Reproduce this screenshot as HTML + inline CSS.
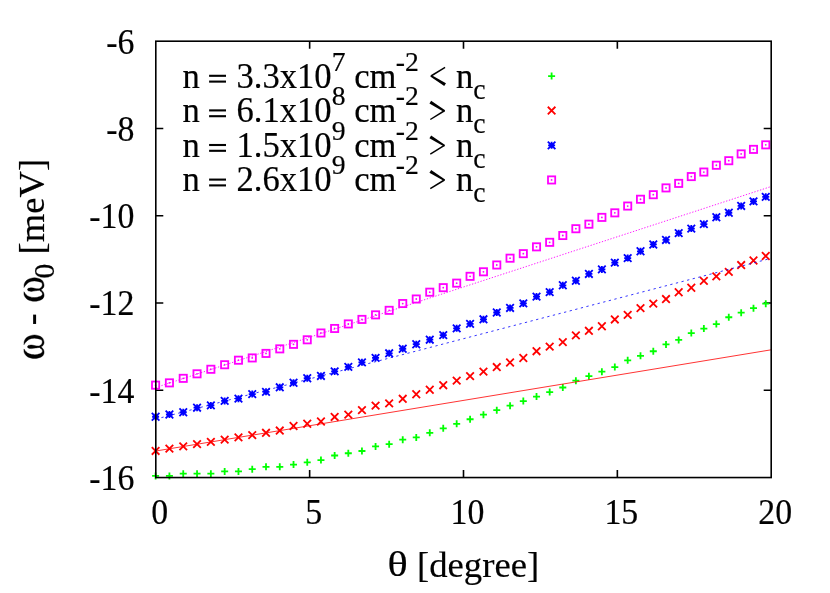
<!DOCTYPE html>
<html><head><meta charset="utf-8"><title>plot</title>
<style>
html,body{margin:0;padding:0;background:#fff;}
svg{display:block;}
text{font-family:"Liberation Serif",serif;fill:#000;stroke:#000;stroke-width:0.2px;}
</style></head><body>
<svg width="830" height="593" viewBox="0 0 830 593">
<rect width="830" height="593" fill="#fff"/>
<path d="M155.8 390.28h7.5M771.2 390.28h-7.5M155.8 303.01h7.5M771.2 303.01h-7.5M155.8 215.74h7.5M771.2 215.74h-7.5M155.8 128.47h7.5M771.2 128.47h-7.5M309.65 477.55v-7.5M309.65 41.2v7.5M463.50 477.55v-7.5M463.50 41.2v7.5M617.35 477.55v-7.5M617.35 41.2v7.5" stroke="#000" stroke-width="1.6" fill="none"/>
<path d="M152.10 475.93H159.10M155.60 472.43V479.43" stroke="#00ff00" stroke-width="1.8" fill="none"/>
<path d="M165.92 475.93H172.92M169.42 472.43V479.43" stroke="#00ff00" stroke-width="1.8" fill="none"/>
<path d="M179.74 473.66H186.74M183.24 470.16V477.16" stroke="#00ff00" stroke-width="1.8" fill="none"/>
<path d="M193.55 473.66H200.55M197.05 470.16V477.16" stroke="#00ff00" stroke-width="1.8" fill="none"/>
<path d="M207.36 473.66H214.36M210.86 470.16V477.16" stroke="#00ff00" stroke-width="1.8" fill="none"/>
<path d="M221.16 471.39H228.16M224.66 467.89V474.89" stroke="#00ff00" stroke-width="1.8" fill="none"/>
<path d="M234.96 471.39H241.96M238.46 467.89V474.89" stroke="#00ff00" stroke-width="1.8" fill="none"/>
<path d="M248.74 469.13H255.74M252.24 465.63V472.63" stroke="#00ff00" stroke-width="1.8" fill="none"/>
<path d="M262.51 466.86H269.51M266.01 463.36V470.36" stroke="#00ff00" stroke-width="1.8" fill="none"/>
<path d="M276.27 466.86H283.27M279.77 463.36V470.36" stroke="#00ff00" stroke-width="1.8" fill="none"/>
<path d="M290.02 464.59H297.02M293.52 461.09V468.09" stroke="#00ff00" stroke-width="1.8" fill="none"/>
<path d="M303.74 462.33H310.74M307.24 458.83V465.83" stroke="#00ff00" stroke-width="1.8" fill="none"/>
<path d="M317.45 460.06H324.45M320.95 456.56V463.56" stroke="#00ff00" stroke-width="1.8" fill="none"/>
<path d="M331.14 455.52H338.14M334.64 452.02V459.02" stroke="#00ff00" stroke-width="1.8" fill="none"/>
<path d="M344.81 453.26H351.81M348.31 449.76V456.76" stroke="#00ff00" stroke-width="1.8" fill="none"/>
<path d="M358.45 450.99H365.45M361.95 447.49V454.49" stroke="#00ff00" stroke-width="1.8" fill="none"/>
<path d="M372.07 446.46H379.07M375.57 442.96V449.96" stroke="#00ff00" stroke-width="1.8" fill="none"/>
<path d="M385.66 444.19H392.66M389.16 440.69V447.69" stroke="#00ff00" stroke-width="1.8" fill="none"/>
<path d="M399.23 439.66H406.23M402.73 436.16V443.16" stroke="#00ff00" stroke-width="1.8" fill="none"/>
<path d="M412.76 437.39H419.76M416.26 433.89V440.89" stroke="#00ff00" stroke-width="1.8" fill="none"/>
<path d="M426.27 432.85H433.27M429.77 429.35V436.35" stroke="#00ff00" stroke-width="1.8" fill="none"/>
<path d="M439.74 428.32H446.74M443.24 424.82V431.82" stroke="#00ff00" stroke-width="1.8" fill="none"/>
<path d="M453.18 423.79H460.18M456.68 420.29V427.29" stroke="#00ff00" stroke-width="1.8" fill="none"/>
<path d="M466.58 419.25H473.58M470.08 415.75V422.75" stroke="#00ff00" stroke-width="1.8" fill="none"/>
<path d="M479.95 414.72H486.95M483.45 411.22V418.22" stroke="#00ff00" stroke-width="1.8" fill="none"/>
<path d="M493.27 410.18H500.27M496.77 406.68V413.68" stroke="#00ff00" stroke-width="1.8" fill="none"/>
<path d="M506.56 405.65H513.56M510.06 402.15V409.15" stroke="#00ff00" stroke-width="1.8" fill="none"/>
<path d="M519.81 401.12H526.81M523.31 397.62V404.62" stroke="#00ff00" stroke-width="1.8" fill="none"/>
<path d="M533.02 396.58H540.02M536.52 393.08V400.08" stroke="#00ff00" stroke-width="1.8" fill="none"/>
<path d="M546.18 392.05H553.18M549.68 388.55V395.55" stroke="#00ff00" stroke-width="1.8" fill="none"/>
<path d="M559.30 387.51H566.30M562.80 384.01V391.01" stroke="#00ff00" stroke-width="1.8" fill="none"/>
<path d="M572.37 380.71H579.37M575.87 377.21V384.21" stroke="#00ff00" stroke-width="1.8" fill="none"/>
<path d="M585.40 376.18H592.40M588.90 372.68V379.68" stroke="#00ff00" stroke-width="1.8" fill="none"/>
<path d="M598.38 371.65H605.38M601.88 368.15V375.15" stroke="#00ff00" stroke-width="1.8" fill="none"/>
<path d="M611.31 367.11H618.31M614.81 363.61V370.61" stroke="#00ff00" stroke-width="1.8" fill="none"/>
<path d="M624.19 360.31H631.19M627.69 356.81V363.81" stroke="#00ff00" stroke-width="1.8" fill="none"/>
<path d="M637.01 355.78H644.01M640.51 352.28V359.28" stroke="#00ff00" stroke-width="1.8" fill="none"/>
<path d="M649.79 351.24H656.79M653.29 347.74V354.74" stroke="#00ff00" stroke-width="1.8" fill="none"/>
<path d="M662.51 344.44H669.51M666.01 340.94V347.94" stroke="#00ff00" stroke-width="1.8" fill="none"/>
<path d="M675.18 339.91H682.18M678.68 336.41V343.41" stroke="#00ff00" stroke-width="1.8" fill="none"/>
<path d="M687.79 333.11H694.79M691.29 329.61V336.61" stroke="#00ff00" stroke-width="1.8" fill="none"/>
<path d="M700.35 328.57H707.35M703.85 325.07V332.07" stroke="#00ff00" stroke-width="1.8" fill="none"/>
<path d="M712.84 324.04H719.84M716.34 320.54V327.54" stroke="#00ff00" stroke-width="1.8" fill="none"/>
<path d="M725.28 317.24H732.28M728.78 313.74V320.74" stroke="#00ff00" stroke-width="1.8" fill="none"/>
<path d="M737.67 312.70H744.67M741.17 309.20V316.20" stroke="#00ff00" stroke-width="1.8" fill="none"/>
<path d="M749.99 308.17H756.99M753.49 304.67V311.67" stroke="#00ff00" stroke-width="1.8" fill="none"/>
<path d="M762.25 303.64H769.25M765.75 300.14V307.14" stroke="#00ff00" stroke-width="1.8" fill="none"/>
<path d="M151.80 447.14L159.40 454.74M151.80 454.74L159.40 447.14" stroke="#ff0000" stroke-width="1.8" fill="none"/>
<path d="M165.62 444.87L173.22 452.47M165.62 452.47L173.22 444.87" stroke="#ff0000" stroke-width="1.8" fill="none"/>
<path d="M179.44 442.61L187.04 450.21M179.44 450.21L187.04 442.61" stroke="#ff0000" stroke-width="1.8" fill="none"/>
<path d="M193.25 440.34L200.85 447.94M193.25 447.94L200.85 440.34" stroke="#ff0000" stroke-width="1.8" fill="none"/>
<path d="M207.06 438.07L214.66 445.67M207.06 445.67L214.66 438.07" stroke="#ff0000" stroke-width="1.8" fill="none"/>
<path d="M220.86 435.81L228.46 443.41M220.86 443.41L228.46 435.81" stroke="#ff0000" stroke-width="1.8" fill="none"/>
<path d="M234.66 433.54L242.26 441.14M234.66 441.14L242.26 433.54" stroke="#ff0000" stroke-width="1.8" fill="none"/>
<path d="M248.44 431.27L256.04 438.87M248.44 438.87L256.04 431.27" stroke="#ff0000" stroke-width="1.8" fill="none"/>
<path d="M262.21 429.01L269.81 436.61M262.21 436.61L269.81 429.01" stroke="#ff0000" stroke-width="1.8" fill="none"/>
<path d="M275.97 426.74L283.57 434.34M275.97 434.34L283.57 426.74" stroke="#ff0000" stroke-width="1.8" fill="none"/>
<path d="M289.72 422.20L297.32 429.80M289.72 429.80L297.32 422.20" stroke="#ff0000" stroke-width="1.8" fill="none"/>
<path d="M303.44 419.94L311.04 427.54M303.44 427.54L311.04 419.94" stroke="#ff0000" stroke-width="1.8" fill="none"/>
<path d="M317.15 417.67L324.75 425.27M317.15 425.27L324.75 417.67" stroke="#ff0000" stroke-width="1.8" fill="none"/>
<path d="M330.84 413.14L338.44 420.74M330.84 420.74L338.44 413.14" stroke="#ff0000" stroke-width="1.8" fill="none"/>
<path d="M344.51 410.87L352.11 418.47M344.51 418.47L352.11 410.87" stroke="#ff0000" stroke-width="1.8" fill="none"/>
<path d="M358.15 406.34L365.75 413.94M358.15 413.94L365.75 406.34" stroke="#ff0000" stroke-width="1.8" fill="none"/>
<path d="M371.77 401.80L379.37 409.40M371.77 409.40L379.37 401.80" stroke="#ff0000" stroke-width="1.8" fill="none"/>
<path d="M385.36 399.53L392.96 407.13M385.36 407.13L392.96 399.53" stroke="#ff0000" stroke-width="1.8" fill="none"/>
<path d="M398.93 395.00L406.53 402.60M398.93 402.60L406.53 395.00" stroke="#ff0000" stroke-width="1.8" fill="none"/>
<path d="M412.46 390.47L420.06 398.07M412.46 398.07L420.06 390.47" stroke="#ff0000" stroke-width="1.8" fill="none"/>
<path d="M425.97 385.93L433.57 393.53M425.97 393.53L433.57 385.93" stroke="#ff0000" stroke-width="1.8" fill="none"/>
<path d="M439.44 381.40L447.04 389.00M439.44 389.00L447.04 381.40" stroke="#ff0000" stroke-width="1.8" fill="none"/>
<path d="M452.88 376.86L460.48 384.46M452.88 384.46L460.48 376.86" stroke="#ff0000" stroke-width="1.8" fill="none"/>
<path d="M466.28 372.33L473.88 379.93M466.28 379.93L473.88 372.33" stroke="#ff0000" stroke-width="1.8" fill="none"/>
<path d="M479.65 367.80L487.25 375.40M479.65 375.40L487.25 367.80" stroke="#ff0000" stroke-width="1.8" fill="none"/>
<path d="M492.97 363.26L500.57 370.86M492.97 370.86L500.57 363.26" stroke="#ff0000" stroke-width="1.8" fill="none"/>
<path d="M506.26 358.73L513.86 366.33M506.26 366.33L513.86 358.73" stroke="#ff0000" stroke-width="1.8" fill="none"/>
<path d="M519.51 354.19L527.11 361.79M519.51 361.79L527.11 354.19" stroke="#ff0000" stroke-width="1.8" fill="none"/>
<path d="M532.72 347.39L540.32 354.99M532.72 354.99L540.32 347.39" stroke="#ff0000" stroke-width="1.8" fill="none"/>
<path d="M545.88 342.86L553.48 350.46M545.88 350.46L553.48 342.86" stroke="#ff0000" stroke-width="1.8" fill="none"/>
<path d="M559.00 338.33L566.60 345.93M559.00 345.93L566.60 338.33" stroke="#ff0000" stroke-width="1.8" fill="none"/>
<path d="M572.07 331.52L579.67 339.12M572.07 339.12L579.67 331.52" stroke="#ff0000" stroke-width="1.8" fill="none"/>
<path d="M585.10 326.99L592.70 334.59M585.10 334.59L592.70 326.99" stroke="#ff0000" stroke-width="1.8" fill="none"/>
<path d="M598.08 322.46L605.68 330.06M598.08 330.06L605.68 322.46" stroke="#ff0000" stroke-width="1.8" fill="none"/>
<path d="M611.01 315.66L618.61 323.26M611.01 323.26L618.61 315.66" stroke="#ff0000" stroke-width="1.8" fill="none"/>
<path d="M623.89 311.12L631.49 318.72M623.89 318.72L631.49 311.12" stroke="#ff0000" stroke-width="1.8" fill="none"/>
<path d="M636.71 304.32L644.31 311.92M636.71 311.92L644.31 304.32" stroke="#ff0000" stroke-width="1.8" fill="none"/>
<path d="M649.49 299.79L657.09 307.39M649.49 307.39L657.09 299.79" stroke="#ff0000" stroke-width="1.8" fill="none"/>
<path d="M662.21 295.25L669.81 302.85M662.21 302.85L669.81 295.25" stroke="#ff0000" stroke-width="1.8" fill="none"/>
<path d="M674.88 288.45L682.48 296.05M674.88 296.05L682.48 288.45" stroke="#ff0000" stroke-width="1.8" fill="none"/>
<path d="M687.49 283.92L695.09 291.52M687.49 291.52L695.09 283.92" stroke="#ff0000" stroke-width="1.8" fill="none"/>
<path d="M700.05 277.12L707.65 284.72M700.05 284.72L707.65 277.12" stroke="#ff0000" stroke-width="1.8" fill="none"/>
<path d="M712.54 272.58L720.14 280.18M712.54 280.18L720.14 272.58" stroke="#ff0000" stroke-width="1.8" fill="none"/>
<path d="M724.98 268.05L732.58 275.65M724.98 275.65L732.58 268.05" stroke="#ff0000" stroke-width="1.8" fill="none"/>
<path d="M737.37 261.25L744.97 268.85M737.37 268.85L744.97 261.25" stroke="#ff0000" stroke-width="1.8" fill="none"/>
<path d="M749.69 256.71L757.29 264.31M749.69 264.31L757.29 256.71" stroke="#ff0000" stroke-width="1.8" fill="none"/>
<path d="M761.95 252.18L769.55 259.78M761.95 259.78L769.55 252.18" stroke="#ff0000" stroke-width="1.8" fill="none"/>
<path d="M152.10 416.77H159.10M155.60 413.27V420.27M151.80 412.97L159.40 420.57M151.80 420.57L159.40 412.97" stroke="#0000ff" stroke-width="1.8" fill="none"/>
<path d="M165.92 414.50H172.92M169.42 411.00V418.00M165.62 410.70L173.22 418.30M165.62 418.30L173.22 410.70" stroke="#0000ff" stroke-width="1.8" fill="none"/>
<path d="M179.74 412.23H186.74M183.24 408.73V415.73M179.44 408.43L187.04 416.03M179.44 416.03L187.04 408.43" stroke="#0000ff" stroke-width="1.8" fill="none"/>
<path d="M193.55 407.70H200.55M197.05 404.20V411.20M193.25 403.90L200.85 411.50M193.25 411.50L200.85 403.90" stroke="#0000ff" stroke-width="1.8" fill="none"/>
<path d="M207.36 405.43H214.36M210.86 401.93V408.93M207.06 401.63L214.66 409.23M207.06 409.23L214.66 401.63" stroke="#0000ff" stroke-width="1.8" fill="none"/>
<path d="M221.16 400.90H228.16M224.66 397.40V404.40M220.86 397.10L228.46 404.70M220.86 404.70L228.46 397.10" stroke="#0000ff" stroke-width="1.8" fill="none"/>
<path d="M234.96 398.63H241.96M238.46 395.13V402.13M234.66 394.83L242.26 402.43M234.66 402.43L242.26 394.83" stroke="#0000ff" stroke-width="1.8" fill="none"/>
<path d="M248.74 394.10H255.74M252.24 390.60V397.60M248.44 390.30L256.04 397.90M248.44 397.90L256.04 390.30" stroke="#0000ff" stroke-width="1.8" fill="none"/>
<path d="M262.51 391.83H269.51M266.01 388.33V395.33M262.21 388.03L269.81 395.63M262.21 395.63L269.81 388.03" stroke="#0000ff" stroke-width="1.8" fill="none"/>
<path d="M276.27 387.30H283.27M279.77 383.80V390.80M275.97 383.50L283.57 391.10M275.97 391.10L283.57 383.50" stroke="#0000ff" stroke-width="1.8" fill="none"/>
<path d="M290.02 382.76H297.02M293.52 379.26V386.26M289.72 378.96L297.32 386.56M289.72 386.56L297.32 378.96" stroke="#0000ff" stroke-width="1.8" fill="none"/>
<path d="M303.74 378.23H310.74M307.24 374.73V381.73M303.44 374.43L311.04 382.03M303.44 382.03L311.04 374.43" stroke="#0000ff" stroke-width="1.8" fill="none"/>
<path d="M317.45 375.96H324.45M320.95 372.46V379.46M317.15 372.16L324.75 379.76M317.15 379.76L324.75 372.16" stroke="#0000ff" stroke-width="1.8" fill="none"/>
<path d="M331.14 371.43H338.14M334.64 367.93V374.93M330.84 367.63L338.44 375.23M330.84 375.23L338.44 367.63" stroke="#0000ff" stroke-width="1.8" fill="none"/>
<path d="M344.81 366.89H351.81M348.31 363.39V370.39M344.51 363.09L352.11 370.69M344.51 370.69L352.11 363.09" stroke="#0000ff" stroke-width="1.8" fill="none"/>
<path d="M358.45 362.36H365.45M361.95 358.86V365.86M358.15 358.56L365.75 366.16M358.15 366.16L365.75 358.56" stroke="#0000ff" stroke-width="1.8" fill="none"/>
<path d="M372.07 357.82H379.07M375.57 354.32V361.32M371.77 354.02L379.37 361.62M371.77 361.62L379.37 354.02" stroke="#0000ff" stroke-width="1.8" fill="none"/>
<path d="M385.66 353.29H392.66M389.16 349.79V356.79M385.36 349.49L392.96 357.09M385.36 357.09L392.96 349.49" stroke="#0000ff" stroke-width="1.8" fill="none"/>
<path d="M399.23 348.76H406.23M402.73 345.26V352.26M398.93 344.96L406.53 352.56M398.93 352.56L406.53 344.96" stroke="#0000ff" stroke-width="1.8" fill="none"/>
<path d="M412.76 344.22H419.76M416.26 340.72V347.72M412.46 340.42L420.06 348.02M412.46 348.02L420.06 340.42" stroke="#0000ff" stroke-width="1.8" fill="none"/>
<path d="M426.27 339.69H433.27M429.77 336.19V343.19M425.97 335.89L433.57 343.49M425.97 343.49L433.57 335.89" stroke="#0000ff" stroke-width="1.8" fill="none"/>
<path d="M439.74 335.15H446.74M443.24 331.65V338.65M439.44 331.35L447.04 338.95M439.44 338.95L447.04 331.35" stroke="#0000ff" stroke-width="1.8" fill="none"/>
<path d="M453.18 328.35H460.18M456.68 324.85V331.85M452.88 324.55L460.48 332.15M452.88 332.15L460.48 324.55" stroke="#0000ff" stroke-width="1.8" fill="none"/>
<path d="M466.58 323.82H473.58M470.08 320.32V327.32M466.28 320.02L473.88 327.62M466.28 327.62L473.88 320.02" stroke="#0000ff" stroke-width="1.8" fill="none"/>
<path d="M479.95 319.29H486.95M483.45 315.79V322.79M479.65 315.49L487.25 323.09M479.65 323.09L487.25 315.49" stroke="#0000ff" stroke-width="1.8" fill="none"/>
<path d="M493.27 312.48H500.27M496.77 308.98V315.98M492.97 308.68L500.57 316.28M492.97 316.28L500.57 308.68" stroke="#0000ff" stroke-width="1.8" fill="none"/>
<path d="M506.56 307.95H513.56M510.06 304.45V311.45M506.26 304.15L513.86 311.75M506.26 311.75L513.86 304.15" stroke="#0000ff" stroke-width="1.8" fill="none"/>
<path d="M519.81 303.42H526.81M523.31 299.92V306.92M519.51 299.62L527.11 307.22M519.51 307.22L527.11 299.62" stroke="#0000ff" stroke-width="1.8" fill="none"/>
<path d="M533.02 296.62H540.02M536.52 293.12V300.12M532.72 292.82L540.32 300.42M532.72 300.42L540.32 292.82" stroke="#0000ff" stroke-width="1.8" fill="none"/>
<path d="M546.18 292.08H553.18M549.68 288.58V295.58M545.88 288.28L553.48 295.88M545.88 295.88L553.48 288.28" stroke="#0000ff" stroke-width="1.8" fill="none"/>
<path d="M559.30 285.28H566.30M562.80 281.78V288.78M559.00 281.48L566.60 289.08M559.00 289.08L566.60 281.48" stroke="#0000ff" stroke-width="1.8" fill="none"/>
<path d="M572.37 280.75H579.37M575.87 277.25V284.25M572.07 276.95L579.67 284.55M572.07 284.55L579.67 276.95" stroke="#0000ff" stroke-width="1.8" fill="none"/>
<path d="M585.40 273.95H592.40M588.90 270.45V277.45M585.10 270.15L592.70 277.75M585.10 277.75L592.70 270.15" stroke="#0000ff" stroke-width="1.8" fill="none"/>
<path d="M598.38 269.41H605.38M601.88 265.91V272.91M598.08 265.61L605.68 273.21M598.08 273.21L605.68 265.61" stroke="#0000ff" stroke-width="1.8" fill="none"/>
<path d="M611.31 262.61H618.31M614.81 259.11V266.11M611.01 258.81L618.61 266.41M611.01 266.41L618.61 258.81" stroke="#0000ff" stroke-width="1.8" fill="none"/>
<path d="M624.19 258.08H631.19M627.69 254.58V261.58M623.89 254.28L631.49 261.88M623.89 261.88L631.49 254.28" stroke="#0000ff" stroke-width="1.8" fill="none"/>
<path d="M637.01 251.28H644.01M640.51 247.78V254.78M636.71 247.48L644.31 255.08M636.71 255.08L644.31 247.48" stroke="#0000ff" stroke-width="1.8" fill="none"/>
<path d="M649.79 244.47H656.79M653.29 240.97V247.97M649.49 240.67L657.09 248.27M649.49 248.27L657.09 240.67" stroke="#0000ff" stroke-width="1.8" fill="none"/>
<path d="M662.51 239.94H669.51M666.01 236.44V243.44M662.21 236.14L669.81 243.74M662.21 243.74L669.81 236.14" stroke="#0000ff" stroke-width="1.8" fill="none"/>
<path d="M675.18 233.14H682.18M678.68 229.64V236.64M674.88 229.34L682.48 236.94M674.88 236.94L682.48 229.34" stroke="#0000ff" stroke-width="1.8" fill="none"/>
<path d="M687.79 228.61H694.79M691.29 225.11V232.11M687.49 224.81L695.09 232.41M687.49 232.41L695.09 224.81" stroke="#0000ff" stroke-width="1.8" fill="none"/>
<path d="M700.35 224.07H707.35M703.85 220.57V227.57M700.05 220.27L707.65 227.87M700.05 227.87L707.65 220.27" stroke="#0000ff" stroke-width="1.8" fill="none"/>
<path d="M712.84 217.27H719.84M716.34 213.77V220.77M712.54 213.47L720.14 221.07M712.54 221.07L720.14 213.47" stroke="#0000ff" stroke-width="1.8" fill="none"/>
<path d="M725.28 212.74H732.28M728.78 209.24V216.24M724.98 208.94L732.58 216.54M724.98 216.54L732.58 208.94" stroke="#0000ff" stroke-width="1.8" fill="none"/>
<path d="M737.67 205.94H744.67M741.17 202.44V209.44M737.37 202.14L744.97 209.74M737.37 209.74L744.97 202.14" stroke="#0000ff" stroke-width="1.8" fill="none"/>
<path d="M749.99 201.40H756.99M753.49 197.90V204.90M749.69 197.60L757.29 205.20M749.69 205.20L757.29 197.60" stroke="#0000ff" stroke-width="1.8" fill="none"/>
<path d="M762.25 196.87H769.25M765.75 193.37V200.37M761.95 193.07L769.55 200.67M761.95 200.67L769.55 193.07" stroke="#0000ff" stroke-width="1.8" fill="none"/>
<rect x="152.00" y="381.54" width="7.20" height="7.20" stroke="#ff00ff" stroke-width="1.8" fill="none"/><circle cx="155.60" cy="385.14" r="0.9" fill="#ff00ff"/>
<rect x="165.82" y="379.27" width="7.20" height="7.20" stroke="#ff00ff" stroke-width="1.8" fill="none"/><circle cx="169.42" cy="382.87" r="0.9" fill="#ff00ff"/>
<rect x="179.64" y="374.74" width="7.20" height="7.20" stroke="#ff00ff" stroke-width="1.8" fill="none"/><circle cx="183.24" cy="378.34" r="0.9" fill="#ff00ff"/>
<rect x="193.45" y="370.21" width="7.20" height="7.20" stroke="#ff00ff" stroke-width="1.8" fill="none"/><circle cx="197.05" cy="373.81" r="0.9" fill="#ff00ff"/>
<rect x="207.26" y="365.67" width="7.20" height="7.20" stroke="#ff00ff" stroke-width="1.8" fill="none"/><circle cx="210.86" cy="369.27" r="0.9" fill="#ff00ff"/>
<rect x="221.06" y="361.14" width="7.20" height="7.20" stroke="#ff00ff" stroke-width="1.8" fill="none"/><circle cx="224.66" cy="364.74" r="0.9" fill="#ff00ff"/>
<rect x="234.86" y="356.60" width="7.20" height="7.20" stroke="#ff00ff" stroke-width="1.8" fill="none"/><circle cx="238.46" cy="360.20" r="0.9" fill="#ff00ff"/>
<rect x="248.64" y="354.34" width="7.20" height="7.20" stroke="#ff00ff" stroke-width="1.8" fill="none"/><circle cx="252.24" cy="357.94" r="0.9" fill="#ff00ff"/>
<rect x="262.41" y="349.80" width="7.20" height="7.20" stroke="#ff00ff" stroke-width="1.8" fill="none"/><circle cx="266.01" cy="353.40" r="0.9" fill="#ff00ff"/>
<rect x="276.17" y="345.27" width="7.20" height="7.20" stroke="#ff00ff" stroke-width="1.8" fill="none"/><circle cx="279.77" cy="348.87" r="0.9" fill="#ff00ff"/>
<rect x="289.92" y="340.74" width="7.20" height="7.20" stroke="#ff00ff" stroke-width="1.8" fill="none"/><circle cx="293.52" cy="344.34" r="0.9" fill="#ff00ff"/>
<rect x="303.64" y="336.20" width="7.20" height="7.20" stroke="#ff00ff" stroke-width="1.8" fill="none"/><circle cx="307.24" cy="339.80" r="0.9" fill="#ff00ff"/>
<rect x="317.35" y="329.40" width="7.20" height="7.20" stroke="#ff00ff" stroke-width="1.8" fill="none"/><circle cx="320.95" cy="333.00" r="0.9" fill="#ff00ff"/>
<rect x="331.04" y="324.87" width="7.20" height="7.20" stroke="#ff00ff" stroke-width="1.8" fill="none"/><circle cx="334.64" cy="328.47" r="0.9" fill="#ff00ff"/>
<rect x="344.71" y="320.33" width="7.20" height="7.20" stroke="#ff00ff" stroke-width="1.8" fill="none"/><circle cx="348.31" cy="323.93" r="0.9" fill="#ff00ff"/>
<rect x="358.35" y="315.80" width="7.20" height="7.20" stroke="#ff00ff" stroke-width="1.8" fill="none"/><circle cx="361.95" cy="319.40" r="0.9" fill="#ff00ff"/>
<rect x="371.97" y="311.26" width="7.20" height="7.20" stroke="#ff00ff" stroke-width="1.8" fill="none"/><circle cx="375.57" cy="314.86" r="0.9" fill="#ff00ff"/>
<rect x="385.56" y="306.73" width="7.20" height="7.20" stroke="#ff00ff" stroke-width="1.8" fill="none"/><circle cx="389.16" cy="310.33" r="0.9" fill="#ff00ff"/>
<rect x="399.13" y="299.93" width="7.20" height="7.20" stroke="#ff00ff" stroke-width="1.8" fill="none"/><circle cx="402.73" cy="303.53" r="0.9" fill="#ff00ff"/>
<rect x="412.66" y="295.40" width="7.20" height="7.20" stroke="#ff00ff" stroke-width="1.8" fill="none"/><circle cx="416.26" cy="299.00" r="0.9" fill="#ff00ff"/>
<rect x="426.17" y="288.59" width="7.20" height="7.20" stroke="#ff00ff" stroke-width="1.8" fill="none"/><circle cx="429.77" cy="292.19" r="0.9" fill="#ff00ff"/>
<rect x="439.64" y="284.06" width="7.20" height="7.20" stroke="#ff00ff" stroke-width="1.8" fill="none"/><circle cx="443.24" cy="287.66" r="0.9" fill="#ff00ff"/>
<rect x="453.08" y="279.53" width="7.20" height="7.20" stroke="#ff00ff" stroke-width="1.8" fill="none"/><circle cx="456.68" cy="283.13" r="0.9" fill="#ff00ff"/>
<rect x="466.48" y="272.73" width="7.20" height="7.20" stroke="#ff00ff" stroke-width="1.8" fill="none"/><circle cx="470.08" cy="276.33" r="0.9" fill="#ff00ff"/>
<rect x="479.85" y="268.19" width="7.20" height="7.20" stroke="#ff00ff" stroke-width="1.8" fill="none"/><circle cx="483.45" cy="271.79" r="0.9" fill="#ff00ff"/>
<rect x="493.17" y="261.39" width="7.20" height="7.20" stroke="#ff00ff" stroke-width="1.8" fill="none"/><circle cx="496.77" cy="264.99" r="0.9" fill="#ff00ff"/>
<rect x="506.46" y="254.59" width="7.20" height="7.20" stroke="#ff00ff" stroke-width="1.8" fill="none"/><circle cx="510.06" cy="258.19" r="0.9" fill="#ff00ff"/>
<rect x="519.71" y="250.06" width="7.20" height="7.20" stroke="#ff00ff" stroke-width="1.8" fill="none"/><circle cx="523.31" cy="253.66" r="0.9" fill="#ff00ff"/>
<rect x="532.92" y="243.25" width="7.20" height="7.20" stroke="#ff00ff" stroke-width="1.8" fill="none"/><circle cx="536.52" cy="246.85" r="0.9" fill="#ff00ff"/>
<rect x="546.08" y="238.72" width="7.20" height="7.20" stroke="#ff00ff" stroke-width="1.8" fill="none"/><circle cx="549.68" cy="242.32" r="0.9" fill="#ff00ff"/>
<rect x="559.20" y="231.92" width="7.20" height="7.20" stroke="#ff00ff" stroke-width="1.8" fill="none"/><circle cx="562.80" cy="235.52" r="0.9" fill="#ff00ff"/>
<rect x="572.27" y="225.12" width="7.20" height="7.20" stroke="#ff00ff" stroke-width="1.8" fill="none"/><circle cx="575.87" cy="228.72" r="0.9" fill="#ff00ff"/>
<rect x="585.30" y="220.58" width="7.20" height="7.20" stroke="#ff00ff" stroke-width="1.8" fill="none"/><circle cx="588.90" cy="224.18" r="0.9" fill="#ff00ff"/>
<rect x="598.28" y="213.78" width="7.20" height="7.20" stroke="#ff00ff" stroke-width="1.8" fill="none"/><circle cx="601.88" cy="217.38" r="0.9" fill="#ff00ff"/>
<rect x="611.21" y="209.25" width="7.20" height="7.20" stroke="#ff00ff" stroke-width="1.8" fill="none"/><circle cx="614.81" cy="212.85" r="0.9" fill="#ff00ff"/>
<rect x="624.09" y="202.45" width="7.20" height="7.20" stroke="#ff00ff" stroke-width="1.8" fill="none"/><circle cx="627.69" cy="206.05" r="0.9" fill="#ff00ff"/>
<rect x="636.91" y="195.65" width="7.20" height="7.20" stroke="#ff00ff" stroke-width="1.8" fill="none"/><circle cx="640.51" cy="199.25" r="0.9" fill="#ff00ff"/>
<rect x="649.69" y="191.11" width="7.20" height="7.20" stroke="#ff00ff" stroke-width="1.8" fill="none"/><circle cx="653.29" cy="194.71" r="0.9" fill="#ff00ff"/>
<rect x="662.41" y="184.31" width="7.20" height="7.20" stroke="#ff00ff" stroke-width="1.8" fill="none"/><circle cx="666.01" cy="187.91" r="0.9" fill="#ff00ff"/>
<rect x="675.08" y="179.78" width="7.20" height="7.20" stroke="#ff00ff" stroke-width="1.8" fill="none"/><circle cx="678.68" cy="183.38" r="0.9" fill="#ff00ff"/>
<rect x="687.69" y="172.98" width="7.20" height="7.20" stroke="#ff00ff" stroke-width="1.8" fill="none"/><circle cx="691.29" cy="176.58" r="0.9" fill="#ff00ff"/>
<rect x="700.25" y="168.44" width="7.20" height="7.20" stroke="#ff00ff" stroke-width="1.8" fill="none"/><circle cx="703.85" cy="172.04" r="0.9" fill="#ff00ff"/>
<rect x="712.74" y="161.64" width="7.20" height="7.20" stroke="#ff00ff" stroke-width="1.8" fill="none"/><circle cx="716.34" cy="165.24" r="0.9" fill="#ff00ff"/>
<rect x="725.18" y="157.11" width="7.20" height="7.20" stroke="#ff00ff" stroke-width="1.8" fill="none"/><circle cx="728.78" cy="160.71" r="0.9" fill="#ff00ff"/>
<rect x="737.57" y="150.31" width="7.20" height="7.20" stroke="#ff00ff" stroke-width="1.8" fill="none"/><circle cx="741.17" cy="153.91" r="0.9" fill="#ff00ff"/>
<rect x="749.89" y="145.77" width="7.20" height="7.20" stroke="#ff00ff" stroke-width="1.8" fill="none"/><circle cx="753.49" cy="149.37" r="0.9" fill="#ff00ff"/>
<rect x="762.15" y="141.24" width="7.20" height="7.20" stroke="#ff00ff" stroke-width="1.8" fill="none"/><circle cx="765.75" cy="144.84" r="0.9" fill="#ff00ff"/>
<path d="M155.80 451.00L771.20 349.80" stroke="#ff0000" stroke-width="0.8" fill="none"/>
<path d="M155.80 419.10L771.20 258.30" stroke="#0000ff" stroke-width="0.8" stroke-dasharray="2.3 3.48" fill="none"/>
<path d="M155.80 387.50L771.20 186.50" stroke="#ff00ff" stroke-width="0.9" stroke-dasharray="1.3 1.67" fill="none"/>
<path d="M548.10 76.10H555.10M551.60 72.60V79.60" stroke="#00ff00" stroke-width="1.8" fill="none"/>
<path d="M547.80 106.75L555.40 114.35M547.80 114.35L555.40 106.75" stroke="#ff0000" stroke-width="1.8" fill="none"/>
<path d="M548.10 145.35H555.10M551.60 141.85V148.85M547.80 141.55L555.40 149.15M547.80 149.15L555.40 141.55" stroke="#0000ff" stroke-width="1.8" fill="none"/>
<rect x="548.00" y="176.35" width="7.20" height="7.20" stroke="#ff00ff" stroke-width="1.8" fill="none"/><circle cx="551.60" cy="179.95" r="0.9" fill="#ff00ff"/>
<rect x="155.8" y="41.2" width="615.40" height="436.35" fill="none" stroke="#000" stroke-width="1.6"/>
<g opacity="0.999">
<text transform="translate(134.40 489.85) scale(0.975 1.06)" font-size="34.70" text-anchor="end">-16</text>
<text transform="translate(134.40 402.58) scale(0.975 1.06)" font-size="34.70" text-anchor="end">-14</text>
<text transform="translate(134.40 315.31) scale(0.975 1.06)" font-size="34.70" text-anchor="end">-12</text>
<text transform="translate(134.40 228.04) scale(0.975 1.06)" font-size="34.70" text-anchor="end">-10</text>
<text transform="translate(134.40 140.77) scale(0.975 1.06)" font-size="34.70" text-anchor="end">-8</text>
<text transform="translate(134.40 53.50) scale(0.975 1.06)" font-size="34.70" text-anchor="end">-6</text>
<text transform="translate(159.80 523.90) scale(0.975 1.06)" font-size="34.70" text-anchor="middle">0</text>
<text transform="translate(313.65 523.90) scale(0.975 1.06)" font-size="34.70" text-anchor="middle">5</text>
<text transform="translate(467.50 523.90) scale(0.975 1.06)" font-size="34.70" text-anchor="middle">10</text>
<text transform="translate(621.35 523.90) scale(0.975 1.06)" font-size="34.70" text-anchor="middle">15</text>
<text transform="translate(775.20 523.90) scale(0.975 1.06)" font-size="34.70" text-anchor="middle">20</text>
<text transform="translate(387.40 576.05) scale(1.143 0.955)" font-size="37.00" text-anchor="start" stroke="#000" stroke-width="0.3">θ</text>
<text transform="translate(417.06 577.10) scale(0.991 0.94)" font-size="37.00" text-anchor="start">[degree]</text>
<path d="M23.97 344.70C24.05 344.02 23.86 341.94 24.44 340.65C25.03 339.36 25.79 337.88 27.48 336.94C29.17 335.99 32.20 334.95 34.56 334.98C36.92 335.02 40.07 335.99 41.64 337.14C43.22 338.29 43.75 340.51 44.01 341.86C44.26 343.21 43.67 344.40 43.20 345.24C42.72 346.07 41.51 346.59 41.17 346.85C41.55 347.32 42.99 348.54 43.47 349.62C43.94 350.70 44.31 352.15 44.01 353.33C43.70 354.51 43.22 355.84 41.64 356.70C40.07 357.57 36.92 358.52 34.56 358.52C32.20 358.52 29.19 357.66 27.48 356.70C25.77 355.75 24.89 354.08 24.31 352.79C23.72 351.50 24.03 349.59 23.97 348.95C24.33 349.43 25.24 351.03 26.13 351.85C27.02 352.67 27.89 353.38 29.30 353.87C30.71 354.36 32.81 354.83 34.56 354.81C36.32 354.80 38.54 354.27 39.82 353.80C41.10 353.33 41.91 352.68 42.25 351.98C42.59 351.28 42.32 350.39 41.85 349.62C41.37 348.86 39.82 347.77 39.42 347.39C38.72 347.51 36.61 347.87 35.24 348.07C33.86 348.27 32.36 348.63 31.19 348.61C30.02 348.59 28.83 348.25 28.22 347.93C27.61 347.62 27.52 347.12 27.55 346.72C27.57 346.32 27.69 345.79 28.36 345.51C29.02 345.22 30.38 345.01 31.53 345.03C32.67 345.06 33.97 345.47 35.24 345.64C36.51 345.81 38.50 345.98 39.15 346.05C39.55 345.75 41.06 344.99 41.58 344.29C42.09 343.59 42.36 342.66 42.25 341.86C42.14 341.07 42.18 340.12 40.90 339.50C39.62 338.88 36.46 338.21 34.56 338.15C32.66 338.10 30.91 338.55 29.50 339.17C28.10 339.78 27.05 340.94 26.13 341.86C25.21 342.79 24.33 344.22 23.97 344.70Z" fill="#000" stroke="#000" stroke-width="0.4" stroke-linejoin="round"/>
<path d="M23.97 287.50C24.05 286.82 23.86 284.74 24.44 283.45C25.03 282.16 25.79 280.68 27.48 279.74C29.17 278.79 32.20 277.75 34.56 277.78C36.92 277.82 40.07 278.79 41.64 279.94C43.22 281.09 43.75 283.31 44.01 284.66C44.26 286.01 43.67 287.20 43.20 288.04C42.72 288.87 41.51 289.39 41.17 289.65C41.55 290.12 42.99 291.34 43.47 292.42C43.94 293.50 44.31 294.95 44.01 296.13C43.70 297.31 43.22 298.64 41.64 299.50C40.07 300.37 36.92 301.32 34.56 301.32C32.20 301.32 29.19 300.46 27.48 299.50C25.77 298.55 24.89 296.88 24.31 295.59C23.72 294.30 24.03 292.39 23.97 291.75C24.33 292.23 25.24 293.83 26.13 294.65C27.02 295.47 27.89 296.18 29.30 296.67C30.71 297.16 32.81 297.63 34.56 297.61C36.32 297.60 38.54 297.07 39.82 296.60C41.10 296.13 41.91 295.48 42.25 294.78C42.59 294.08 42.32 293.19 41.85 292.42C41.37 291.66 39.82 290.57 39.42 290.19C38.72 290.31 36.61 290.67 35.24 290.87C33.86 291.07 32.36 291.43 31.19 291.41C30.02 291.39 28.83 291.05 28.22 290.73C27.61 290.42 27.52 289.92 27.55 289.52C27.57 289.12 27.69 288.59 28.36 288.31C29.02 288.02 30.38 287.81 31.53 287.83C32.67 287.86 33.97 288.27 35.24 288.44C36.51 288.61 38.50 288.78 39.15 288.85C39.55 288.55 41.06 287.79 41.58 287.09C42.09 286.39 42.36 285.46 42.25 284.66C42.14 283.87 42.18 282.92 40.90 282.30C39.62 281.68 36.46 281.01 34.56 280.95C32.66 280.90 30.91 281.35 29.50 281.97C28.10 282.58 27.05 283.74 26.13 284.66C25.21 285.59 24.33 287.02 23.97 287.50Z" fill="#000" stroke="#000" stroke-width="0.4" stroke-linejoin="round"/>
<g transform="translate(44.1 360) rotate(-90)"><text transform="translate(34.70 0.00) scale(0.95 1.0)" font-size="37.00" text-anchor="start">-</text><text transform="translate(81.60 10.20) scale(1.0 1.03)" font-size="29.60" text-anchor="start">0</text><text transform="translate(105.60 0.00) scale(0.99 0.945)" font-size="37.00" text-anchor="start">[meV]</text></g>
<text transform="translate(182.40 87.60) scale(0.997 1.06)" font-size="34.70" text-anchor="start">n</text>
<rect x="209.1" y="74.75" width="16.9" height="2.1" fill="#000"/><rect x="209.1" y="80.55" width="16.9" height="2.1" fill="#000"/>
<text transform="translate(236.51 87.60) scale(0.997 1.06)" font-size="34.70" text-anchor="start">3.3x10</text>
<text transform="translate(331.85 70.60) scale(0.997 1.0)" font-size="27.76" text-anchor="start">7</text>
<text transform="translate(354.14 87.60) scale(0.997 1.06)" font-size="34.70" text-anchor="start">cm</text>
<text transform="translate(395.71 70.60) scale(0.997 1.0)" font-size="27.76" text-anchor="start">-2</text>
<polygon points="444.72,66.69 430.58,75.32 431.42,76.68 445.48,67.91" fill="#000"/>
<polygon points="445.97,83.20 431.30,74.89 430.30,76.51 444.23,86.00" fill="#000"/>
<text transform="translate(455.98 87.60) scale(0.997 1.06)" font-size="34.70" text-anchor="start">n</text>
<text transform="translate(473.33 98.50) scale(0.997 1.06)" font-size="27.76" text-anchor="start">c</text>
<text transform="translate(182.40 122.20) scale(0.997 1.06)" font-size="34.70" text-anchor="start">n</text>
<rect x="209.1" y="109.35" width="16.9" height="2.1" fill="#000"/><rect x="209.1" y="115.15" width="16.9" height="2.1" fill="#000"/>
<text transform="translate(236.51 122.20) scale(0.997 1.06)" font-size="34.70" text-anchor="start">6.1x10</text>
<text transform="translate(331.85 105.20) scale(0.997 1.0)" font-size="27.76" text-anchor="start">8</text>
<text transform="translate(354.14 122.20) scale(0.997 1.06)" font-size="34.70" text-anchor="start">cm</text>
<text transform="translate(395.71 105.20) scale(0.997 1.0)" font-size="27.76" text-anchor="start">-2</text>
<polygon points="430.68,120.11 444.82,111.48 443.98,110.12 429.92,118.89" fill="#000"/>
<polygon points="429.43,103.60 444.10,111.91 445.10,110.29 431.17,100.80" fill="#000"/>
<text transform="translate(455.98 122.20) scale(0.997 1.06)" font-size="34.70" text-anchor="start">n</text>
<text transform="translate(473.33 133.10) scale(0.997 1.06)" font-size="27.76" text-anchor="start">c</text>
<text transform="translate(182.40 156.80) scale(0.997 1.06)" font-size="34.70" text-anchor="start">n</text>
<rect x="209.1" y="143.95" width="16.9" height="2.1" fill="#000"/><rect x="209.1" y="149.75" width="16.9" height="2.1" fill="#000"/>
<text transform="translate(236.51 156.80) scale(0.997 1.06)" font-size="34.70" text-anchor="start">1.5x10</text>
<text transform="translate(331.85 139.80) scale(0.997 1.0)" font-size="27.76" text-anchor="start">9</text>
<text transform="translate(354.14 156.80) scale(0.997 1.06)" font-size="34.70" text-anchor="start">cm</text>
<text transform="translate(395.71 139.80) scale(0.997 1.0)" font-size="27.76" text-anchor="start">-2</text>
<polygon points="430.68,154.71 444.82,146.08 443.98,144.72 429.92,153.49" fill="#000"/>
<polygon points="429.43,138.20 444.10,146.51 445.10,144.89 431.17,135.40" fill="#000"/>
<text transform="translate(455.98 156.80) scale(0.997 1.06)" font-size="34.70" text-anchor="start">n</text>
<text transform="translate(473.33 167.70) scale(0.997 1.06)" font-size="27.76" text-anchor="start">c</text>
<text transform="translate(182.40 191.40) scale(0.997 1.06)" font-size="34.70" text-anchor="start">n</text>
<rect x="209.1" y="178.55" width="16.9" height="2.1" fill="#000"/><rect x="209.1" y="184.35" width="16.9" height="2.1" fill="#000"/>
<text transform="translate(236.51 191.40) scale(0.997 1.06)" font-size="34.70" text-anchor="start">2.6x10</text>
<text transform="translate(331.85 174.40) scale(0.997 1.0)" font-size="27.76" text-anchor="start">9</text>
<text transform="translate(354.14 191.40) scale(0.997 1.06)" font-size="34.70" text-anchor="start">cm</text>
<text transform="translate(395.71 174.40) scale(0.997 1.0)" font-size="27.76" text-anchor="start">-2</text>
<polygon points="430.68,189.31 444.82,180.68 443.98,179.32 429.92,188.09" fill="#000"/>
<polygon points="429.43,172.80 444.10,181.11 445.10,179.49 431.17,170.00" fill="#000"/>
<text transform="translate(455.98 191.40) scale(0.997 1.06)" font-size="34.70" text-anchor="start">n</text>
<text transform="translate(473.33 202.30) scale(0.997 1.06)" font-size="27.76" text-anchor="start">c</text>
</g>
</svg></body></html>
